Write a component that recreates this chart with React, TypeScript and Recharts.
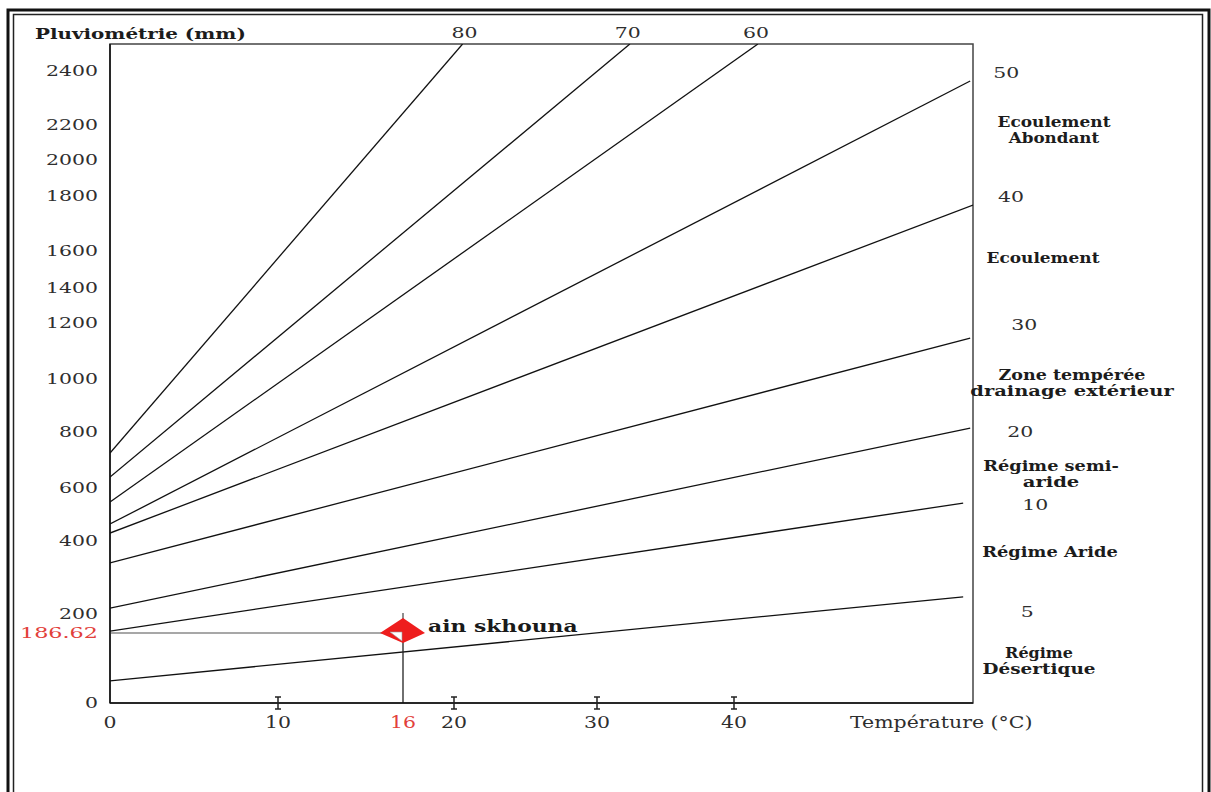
import React from 'react';
import { ComposedChart, Line, Scatter, XAxis, YAxis, ReferenceArea } from 'recharts';

// De Martonne abacus: rainfall P (mm) against temperature T (°C), one line per aridity index
const indexNames = ['80', '70', '60', '50', '40', '30', '20', '10', '5'];
const rainAtZero = [725, 639, 547, 464, 430, 340, 216, 188, 59];
const endTemp = [20.6, 32.4, 41.7, 56.8, 57, 56.8, 56.8, 56.3, 56.3];
const endRain = [2500, 2500, 2500, 2363, 1767, 1146, 815, 543, 247];

const rainTicks = [0, 186.62, 200, 400, 600, 800, 1000, 1200, 1400, 1600, 1800, 2000, 2200, 2400];
const tempTicks = [0, 10, 16, 20, 30, 40];
const markedTemps = [10, 20, 30, 40];

const stationName = 'ain skhouna';
const stationTemp = 16;
const stationRain = 186.62;

const zoneNames = [
  ['Ecoulement', 'Abondant'],
  ['Ecoulement'],
  ['Zone tempérée', 'drainage extérieur'],
  ['Régime semi-', 'aride'],
  ['Régime Aride'],
  ['Régime', 'Désertique'],
];

// the printed abacus has hand-spaced axes, these stops copy its spacing
const RAIN_STOPS = [0, 186.62, 200, 400, 600, 800, 1000, 1200, 1400, 1600, 1800, 2000, 2200, 2400, 2500];
const RAIN_STOP_PX = [703, 633, 614, 541, 488, 432, 379, 323, 288, 251, 196, 160, 125, 71, 44];
const TEMP_STOPS = [0, 10, 16, 20, 30, 40, 57];
const TEMP_STOP_PX = [110, 278, 403, 454, 597, 734, 973];

const END_LABEL_SHIFT = [[2, -11], [-2, -11], [-2, -11], [36, -8], [38, -8], [54, -13], [50, 4], [72, 2], [64, 15]];
const ZONE_POS = [[1054, 122], [1043, 258], [1072, 375], [1051, 466], [1050, 552], [1039, 653]];

const FONT = '"DejaVu Serif", serif';
const RED = '#e2403a';
const INK = '#2e2e2e';

function stretchedScale(stops: number[], fracs: number[]) {
  const make = (dom: number[], rng: number[]): any => {
    let d = dom.slice();
    let r = rng.slice();
    const frac = (v: number) => {
      let i = 0;
      while (i < stops.length - 2 && v > stops[i + 1]) i++;
      return fracs[i] + ((v - stops[i]) / (stops[i + 1] - stops[i])) * (fracs[i + 1] - fracs[i]);
    };
    const s: any = (v: any) => r[0] + frac(Number(v)) * (r[1] - r[0]);
    s.domain = (x?: number[]) => {
      if (x === undefined) return d.slice();
      d = x.slice();
      return s;
    };
    s.range = (x?: number[]) => {
      if (x === undefined) return r.slice();
      r = x.slice();
      return s;
    };
    s.copy = () => make(d, r);
    s.ticks = () => stops.slice();
    s.clamp = () => s;
    s.nice = () => s;
    return s;
  };
  return make([stops[0], stops[stops.length - 1]], [0, 1]);
}

const rainScale = stretchedScale(RAIN_STOPS, RAIN_STOP_PX.map((y) => (703 - y) / 659));
const tempScale = stretchedScale(TEMP_STOPS, TEMP_STOP_PX.map((x) => (x - 110) / 863));

const Txt = ({ x, y, children, per, size = 15, bold = false, fill = INK, anchor = 'middle' }: any) => (
  <text
    x={x}
    y={y}
    dy="0.35em"
    textAnchor={anchor}
    fontFamily={FONT}
    fontSize={size}
    fontWeight={bold ? 700 : 400}
    fill={fill}
    textLength={String(children).length * per}
    lengthAdjust="spacingAndGlyphs"
  >
    {children}
  </text>
);

const RainTick = ({ x, y, payload }: any) => {
  const own = payload.value === stationRain;
  return (
    <Txt x={x} y={y} anchor="end" per={13} fill={own ? RED : INK}>
      {String(payload.value)}
    </Txt>
  );
};

const TempTick = ({ x, y, payload }: any) => {
  const v = payload.value;
  const axisY = y - 12;
  return (
    <g>
      {markedTemps.includes(v) && (
        <path
          d={`M${x},${axisY - 6}V${axisY + 6}M${x - 3},${axisY - 6}H${x + 3}M${x - 3},${axisY + 6}H${x + 3}`}
          stroke="#222"
          strokeWidth={1.5}
        />
      )}
      <Txt x={x} y={axisY + 19} per={13} size={16} fill={v === stationTemp ? RED : INK}>
        {String(v)}
      </Txt>
    </g>
  );
};

const StationMark = ({ cx, cy }: any) => (
  <g>
    <line x1={cx} y1={cy - 20} x2={cx} y2={cy - 14} stroke="#444" strokeWidth={1.2} />
    <polygon points={`${cx},${cy - 15} ${cx + 22},${cy} ${cx},${cy + 10} ${cx - 23},${cy}`} fill="#ee1d1d" />
    <polygon points={`${cx - 13},${cy - 1} ${cx - 1},${cy - 1} ${cx - 1},${cy + 8}`} fill="#fff" stroke="#999" strokeWidth={0.6} />
    <Txt x={cx + 25} y={cy - 7} anchor="start" per={13.6} size={17} bold fill="#1a1a1a">
      {stationName}
    </Txt>
  </g>
);

const endLabel = (i: number) => (props: any) => {
  if (props.index !== 1) return null;
  const [dx, dy] = END_LABEL_SHIFT[i];
  return (
    <Txt key={`lab-${i}`} x={props.x + dx} y={props.y + dy} per={13} size={15}>
      {indexNames[i]}
    </Txt>
  );
};

export default function App() {
  return (
    <div style={{ position: 'relative', width: 1211, height: 792, background: '#fff', overflow: 'hidden' }}>
      <style>{'body{margin:0}'}</style>
      <ComposedChart width={1211} height={792} margin={{ top: 44, right: 238, bottom: 59, left: 50 }}>
        <XAxis
          dataKey="t"
          type="number"
          domain={[0, 57]}
          scale={tempScale}
          allowDataOverflow
          ticks={tempTicks}
          interval={0}
          tick={<TempTick />}
          tickSize={0}
          tickMargin={12}
          height={30}
          axisLine={{ stroke: '#111', strokeWidth: 1.5 }}
        />
        <YAxis
          dataKey="p"
          type="number"
          domain={[0, 2500]}
          scale={rainScale}
          allowDataOverflow
          ticks={rainTicks}
          interval={0}
          tick={<RainTick />}
          tickSize={0}
          tickMargin={12}
          width={60}
          axisLine={{ stroke: '#111', strokeWidth: 1.5 }}
        />
        <ReferenceArea x1={0} x2={57} y1={0} y2={2500} fill="none" stroke="#444" strokeWidth={1.5} ifOverflow="visible" />
        {indexNames.map((name, i) => (
          <Line
            key={name}
            data={[
              { t: 0, p: rainAtZero[i] },
              { t: endTemp[i], p: endRain[i] },
            ]}
            dataKey="p"
            stroke="#111"
            strokeWidth={1.3}
            dot={false}
            isAnimationActive={false}
            label={endLabel(i)}
          />
        ))}
        <Line
          data={[
            { t: 0, p: stationRain },
            { t: stationTemp, p: stationRain },
          ]}
          dataKey="p"
          stroke="#8a8a8a"
          strokeWidth={1.3}
          dot={false}
          isAnimationActive={false}
        />
        <Line
          data={[
            { t: stationTemp, p: 0 },
            { t: stationTemp, p: stationRain },
          ]}
          dataKey="p"
          stroke="#222"
          strokeWidth={1.3}
          dot={false}
          isAnimationActive={false}
        />
        <Scatter data={[{ t: stationTemp, p: stationRain }]} dataKey="p" shape={<StationMark />} isAnimationActive={false} />
      </ComposedChart>
      <svg width={1211} height={792} style={{ position: 'absolute', left: 0, top: 0, pointerEvents: 'none' }}>
        <rect x={8} y={10} width={1201} height={900} fill="none" stroke="#111" strokeWidth={3} />
        <rect x={13.5} y={14.5} width={1189} height={900} fill="none" stroke="#222" strokeWidth={1.5} />
        <Txt x={35} y={34} anchor="start" per={12.4} size={15} bold fill="#1c1c1c">
          Pluviométrie (mm)
        </Txt>
        <Txt x={850} y={722} anchor="start" per={11.4} size={16}>
          Température (°C)
        </Txt>
        {zoneNames.map((lines, i) =>
          lines.map((s, j) => (
            <Txt key={`${i}-${j}`} x={ZONE_POS[i][0]} y={ZONE_POS[i][1] + j * 16.5} per={11.3} size={14} bold fill="#1c1c1c">
              {s}
            </Txt>
          ))
        )}
      </svg>
    </div>
  );
}
